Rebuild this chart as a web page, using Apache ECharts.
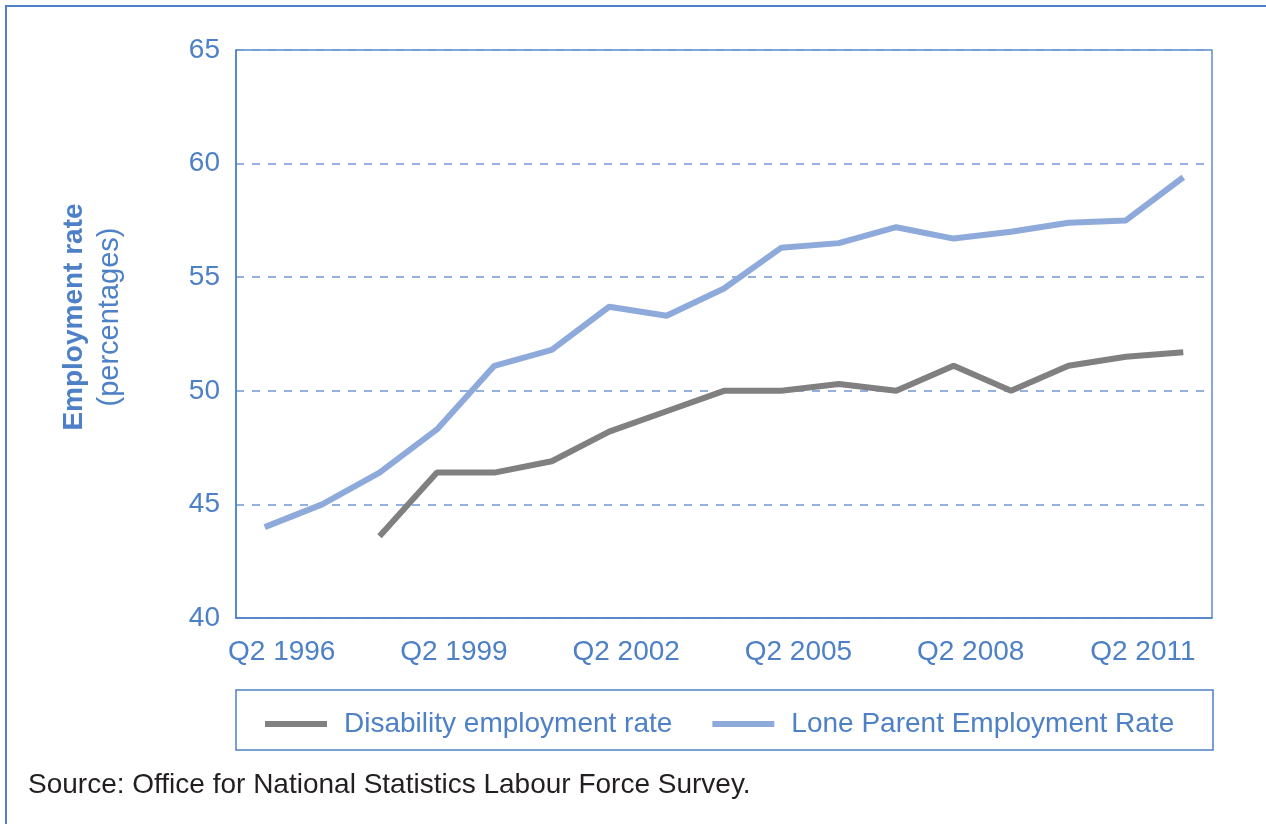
<!DOCTYPE html>
<html>
<head>
<meta charset="utf-8">
<script src="https://cdn.jsdelivr.net/npm/echarts@6/dist/echarts.min.js"></script>
<style>
  html, body { margin: 0; padding: 0; background: #fff; }
  #main { width: 1266px; height: 824px; }
</style>
</head>
<body>
<div id="main"></div>
<script>
    'use strict';

    var quarters = ['Q2 1996', 'Q2 1997', 'Q2 1998', 'Q2 1999', 'Q2 2000', 'Q2 2001', 'Q2 2002', 'Q2 2003',
        'Q2 2004', 'Q2 2005', 'Q2 2006', 'Q2 2007', 'Q2 2008', 'Q2 2009', 'Q2 2010', 'Q2 2011', 'Q2 2012'];
    var disability = ['-', '-', 43.6, 46.4, 46.4, 46.9, 48.2, 49.1, 50.0, 50.0, 50.3, 50.0, 51.1, 50.0, 51.1, 51.5, 51.7];
    var loneParent = [44.0, 45.0, 46.4, 48.3, 51.1, 51.8, 53.7, 53.3, 54.5, 56.3, 56.5, 57.2, 56.7, 57.0, 57.4, 57.5, 59.4];

    var blue = '#4d80c6';
    var font = '"Liberation Sans", Arial, sans-serif';

    var myChart = echarts.init(document.getElementById('main'));

    var option = {
        backgroundColor: '#fff',
        animation: false,
        textStyle: { fontFamily: font },
        grid: {
            left: 236,
            right: 54,
            top: 50,
            bottom: 206,
            show: true,
            borderColor: '#5d8dd2',
            borderWidth: 1.5
        },
        legend: {
            left: 260,
            top: 705,
            icon: 'rect',
            itemWidth: 62,
            itemHeight: 6,
            itemGap: 40,
            textStyle: {
                color: blue,
                fontSize: 28,
                fontFamily: font,
                padding: [0, 0, 0, 12]
            },
            data: ['Disability employment rate', 'Lone Parent Employment Rate']
        },
        graphic: [{
            type: 'rect',
            shape: { x: 6, y: 6, width: 1400, height: 1000 },
            style: { fill: null, stroke: blue, lineWidth: 2 },
            silent: true
        }, {
            type: 'rect',
            shape: { x: 236, y: 690, width: 977, height: 60 },
            style: { fill: null, stroke: blue, lineWidth: 1.5 },
            silent: true
        }, {
            type: 'text',
            x: 92,
            y: 317,
            rotation: Math.PI / 2,
            style: {
                text: '{b|Employment rate}\n{n|(percentages)}',
                align: 'center',
                verticalAlign: 'middle',
                fill: blue,
                rich: {
                    b: { fontSize: 28, fontWeight: 'bold', fontFamily: font, fill: blue, lineHeight: 36 },
                    n: { fontSize: 29, fontFamily: font, fill: blue, lineHeight: 36 }
                }
            }
        }, {
            type: 'text',
            left: 28,
            top: 771,
            style: {
                text: 'Source: Office for National Statistics Labour Force Survey.',
                fontSize: 28,
                fontFamily: font,
                fill: '#231f20'
            }
        }],
        xAxis: [{
            type: 'category',
            data: quarters,
            boundaryGap: true,
            axisLine: { show: true, lineStyle: { color: blue, width: 1.5 } },
            axisTick: { show: false },
            axisLabel: {
                interval: 2,
                color: blue,
                fontSize: 28,
                fontFamily: font,
                margin: 20,
                padding: [0, 0, 0, 34]
            },
            splitLine: { show: false }
        }],
        yAxis: [{
            type: 'value',
            min: 40,
            max: 65,
            interval: 5,
            axisLine: { show: true, lineStyle: { color: blue, width: 1.5 } },
            axisTick: { show: false },
            axisLabel: {
                color: blue,
                fontSize: 28,
                fontFamily: font,
                margin: 16
            },
            splitLine: {
                show: true,
                lineStyle: { color: '#6f98d4', width: 1.5, type: [8, 8] }
            }
        }],
        series: [{
            name: 'Disability employment rate',
            type: 'line',
            data: disability,
            showSymbol: false,
            symbol: 'none',
            lineStyle: { color: '#808080', width: 6 },
            itemStyle: { color: '#808080' },
            z: 3
        }, {
            name: 'Lone Parent Employment Rate',
            type: 'line',
            data: loneParent,
            showSymbol: false,
            symbol: 'none',
            lineStyle: { color: '#8eaadb', width: 6 },
            itemStyle: { color: '#8eaadb' },
            z: 2
        }]
    };
    if (option && typeof option === "object") {
        myChart.setOption(option, true);
    }
</script>
</body>
</html>
